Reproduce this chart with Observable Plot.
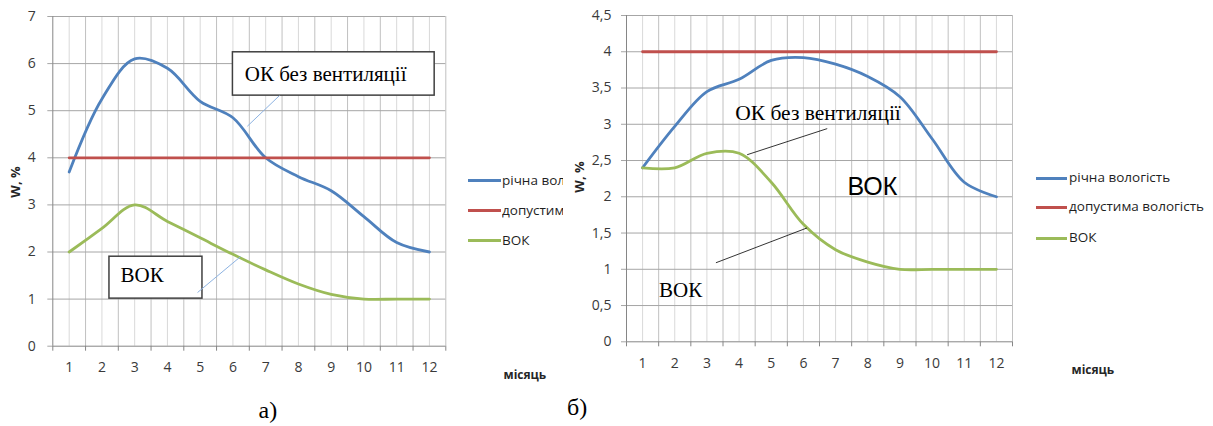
<!DOCTYPE html>
<html>
<head>
<meta charset="utf-8">
<script src="https://cdn.jsdelivr.net/npm/d3@7"></script>
<script src="https://cdn.jsdelivr.net/npm/@observablehq/plot@0.6"></script>
<style>
  body { margin: 0; background: #fff; }
  #root { position: relative; width: 1213px; height: 426px; overflow: hidden; background: #fff; }
  .abs { position: absolute; white-space: nowrap; }
  .leg { font-family: "Open Sans", sans-serif; font-size: 13.5px; color: #1f1f1f; line-height: 16px; }
  .legline { position: absolute; height: 3px; }
  .xlab { font-family: "Open Sans", sans-serif; font-weight: bold; font-size: 12px; color: #262626; }
  .ylab { font-family: "Open Sans", sans-serif; font-weight: bold; font-size: 13px; color: #262626; transform: rotate(-90deg); transform-origin: center center; }
  .cap { font-family: "Liberation Serif", serif; font-size: 24px; color: #000; }
</style>
</head>
<body>
<div id="root"></div>
<script>
// ---------- data ----------
const months = [1, 2, 3, 4, 5, 6, 7, 8, 9, 10, 11, 12];
const seriesNames = ["річна вологість", "допустима вологість", "ВОК"];
const seriesColors = ["#4F81BD", "#C0504D", "#9BBB59"];

// panel а)
const richnaA = [3.7, 5.25, 6.1, 5.9, 5.2, 4.85, 4.0, 3.6, 3.3, 2.75, 2.2, 2.0];
const dopustA = [4, 4, 4, 4, 4, 4, 4, 4, 4, 4, 4, 4];
const vokA    = [2.0, 2.5, 3.0, 2.65, 2.3, 1.95, 1.62, 1.32, 1.1, 1.0, 1.0, 1.0];
const yTicksA = [0, 1, 2, 3, 4, 5, 6, 7];

// panel б)
const richnaB = [2.4, 2.97, 3.45, 3.62, 3.88, 3.92, 3.83, 3.66, 3.38, 2.8, 2.2, 2.0];
const dopustB = [4, 4, 4, 4, 4, 4, 4, 4, 4, 4, 4, 4];
const vokB    = [2.4, 2.4, 2.6, 2.6, 2.2, 1.62, 1.27, 1.1, 1.0, 1.0, 1.0, 1.0];
const yTicksB = [0, 0.5, 1, 1.5, 2, 2.5, 3, 3.5, 4, 4.5];

const annotText1 = "ОК без вентиляції";
const annotText2 = "ВОК";
const xAxisTitle = "місяць";
const yAxisTitle = "W, %";

// ---------- helpers ----------
function toRows(values, name) {
  return months.map((m, i) => ({month: m, value: values[i], name}));
}
const boundaries = d3.range(0.5, 12.6, 1);
const centers = months;

function panel(cfg) {
  const rows = [
    ...toRows(cfg.richna, seriesNames[0]),
    ...toRows(cfg.dopust, seriesNames[1]),
    ...toRows(cfg.vok, seriesNames[2])
  ];
  const fmt = d => String(d).replace(".", ",");
  return Plot.plot({
    width: cfg.width,
    height: 426,
    marginLeft: cfg.ml, marginRight: cfg.mr, marginTop: cfg.mt, marginBottom: cfg.mb,
    x: {domain: [0.5, 12.5]},
    y: {domain: cfg.ydomain},
    color: {domain: seriesNames, range: seriesColors},
    style: {fontFamily: "'Open Sans', sans-serif", fontSize: "14px", background: "transparent", color: "#404040"},
    marks: [
      Plot.ruleX(centers, {stroke: "#d9d9d9", strokeWidth: 1}),
      Plot.ruleX(boundaries.slice(1), {stroke: "#c0c0c0", strokeWidth: 1}),
      Plot.ruleY(cfg.yticks.slice(1), {stroke: "#a6a6a6", strokeWidth: 1}),
      Plot.axisY({ticks: cfg.yticks, tickSize: 5, tickPadding: cfg.ypad, tickFormat: fmt, label: null, stroke: "#a6a6a6", fill: "#3a3a3a", fontSize: 14}),
      Plot.ruleX([0.5], {stroke: "#868686", strokeWidth: 1}),
      Plot.ruleY([0], {stroke: "#868686", strokeWidth: 1}),
      Plot.axisX({ticks: boundaries, tickSize: 5, tickFormat: () => "", label: null, stroke: "#868686"}),
      Plot.axisX({ticks: months, tickSize: 0, tickPadding: 16, tickFormat: d => String(d), label: null, fill: "#3a3a3a", fontSize: 14}),
      Plot.line(rows, {x: "month", y: "value", z: "name", stroke: "name", strokeWidth: 2.8, curve: "catmull-rom"}),
      ...cfg.annotations
    ]
  });
}

// ---------- annotations (in data coordinates) ----------
const annA = [
  Plot.rect([{x1: 6.0, x2: 12.16, y1: 5.32, y2: 6.24}], {x1: "x1", x2: "x2", y1: "y1", y2: "y2", fill: "white", stroke: "#404040", strokeWidth: 1.5}),
  Plot.link([{x1: 7.42, y1: 5.32, x2: 6.44, y2: 4.67}], {x1: "x1", y1: "y1", x2: "x2", y2: "y2", stroke: "#8DB3E2", strokeWidth: 1}),
  Plot.text([{x: 6.36, y: 5.78, t: annotText1}], {x: "x", y: "y", text: "t", textAnchor: "start", fontFamily: "'Liberation Serif', serif", fontSize: 21, fill: "#000"}),
  Plot.rect([{x1: 2.23, x2: 5.07, y1: 1.01, y2: 1.90}], {x1: "x1", x2: "x2", y1: "y1", y2: "y2", fill: "white", stroke: "#404040", strokeWidth: 1.5}),
  Plot.link([{x1: 4.92, y1: 1.14, x2: 6.23, y2: 1.90}], {x1: "x1", y1: "y1", x2: "x2", y2: "y2", stroke: "#8DB3E2", strokeWidth: 1}),
  Plot.text([{x: 2.57, y: 1.50, t: annotText2}], {x: "x", y: "y", text: "t", textAnchor: "start", fontFamily: "'Liberation Serif', serif", fontSize: 21, fill: "#000"})
];
const annB = [
  Plot.link([{x1: 6.74, y1: 2.94, x2: 4.25, y2: 2.58}], {x1: "x1", y1: "y1", x2: "x2", y2: "y2", stroke: "#000", strokeWidth: 0.8}),
  Plot.text([{x: 3.88, y: 3.15, t: annotText1}], {x: "x", y: "y", text: "t", textAnchor: "start", fontFamily: "'Liberation Serif', serif", fontSize: 21.5, fill: "#000"}),
  Plot.text([{x: 7.37, y: 2.13, t: annotText2}], {x: "x", y: "y", text: "t", textAnchor: "start", fontFamily: "'Liberation Sans', sans-serif", fontSize: 25, fill: "#000"}),
  Plot.link([{x1: 3.28, y1: 1.09, x2: 6.11, y2: 1.57}], {x1: "x1", y1: "y1", x2: "x2", y2: "y2", stroke: "#000", strokeWidth: 0.8}),
  Plot.text([{x: 1.51, y: 0.71, t: annotText2}], {x: "x", y: "y", text: "t", textAnchor: "start", fontFamily: "'Liberation Serif', serif", fontSize: 21, fill: "#000"})
];

const root = document.getElementById("root");

function place(el, left, top) {
  el.style.position = "absolute";
  el.style.left = left + "px";
  el.style.top = top + "px";
  root.appendChild(el);
}

const svgA = panel({width: 460, ml: 52.3, mr: 14.7, mt: 16, mb: 426 - 345.7, ydomain: [0, 7], yticks: yTicksA, ypad: 12,
  richna: richnaA, dopust: dopustA, vok: vokA, annotations: annA});
place(svgA, 0, 0);

const svgB = panel({width: 440, ml: 46, mr: 8, mt: 15, mb: 426 - 341.3, ydomain: [0, 4.5], yticks: yTicksB, ypad: 10,
  richna: richnaB, dopust: dopustB, vok: vokB, annotations: annB});
place(svgB, 580, 0);

// ---------- legends & titles (HTML) ----------
function legend(left, lineW, textLeft, ys, clipW) {
  seriesNames.forEach((n, i) => {
    const ln = document.createElement("div");
    ln.className = "legline";
    ln.style.left = left + "px";
    ln.style.top = (ys[i] - 1.5) + "px";
    ln.style.width = lineW + "px";
    ln.style.background = seriesColors[i];
    root.appendChild(ln);
    const t = document.createElement("div");
    t.className = "abs leg";
    t.textContent = n;
    t.style.left = textLeft + "px";
    t.style.top = (ys[i] - 9) + "px";
    if (clipW) { t.style.width = clipW + "px"; t.style.overflow = "hidden"; }
    root.appendChild(t);
  });
}
legend(468, 33, 502, [180.7, 210.7, 240.7], 61);
legend(1036, 31, 1069, [178, 207.3, 238.3], null);

function label(cls, text, cx, cy) {
  const d = document.createElement("div");
  d.className = "abs " + cls;
  d.textContent = text;
  root.appendChild(d);
  const w = d.offsetWidth, h = d.offsetHeight;
  d.style.left = (cx - w / 2) + "px";
  d.style.top = (cy - h / 2) + "px";
}
label("xlab", xAxisTitle, 525, 374);
label("xlab", xAxisTitle, 1093, 369);
label("ylab", yAxisTitle, 14, 182);
label("ylab", yAxisTitle, 578, 177);
label("cap", "а)", 268, 410);
label("cap", "б)", 577, 407);
</script>
</body>
</html>
